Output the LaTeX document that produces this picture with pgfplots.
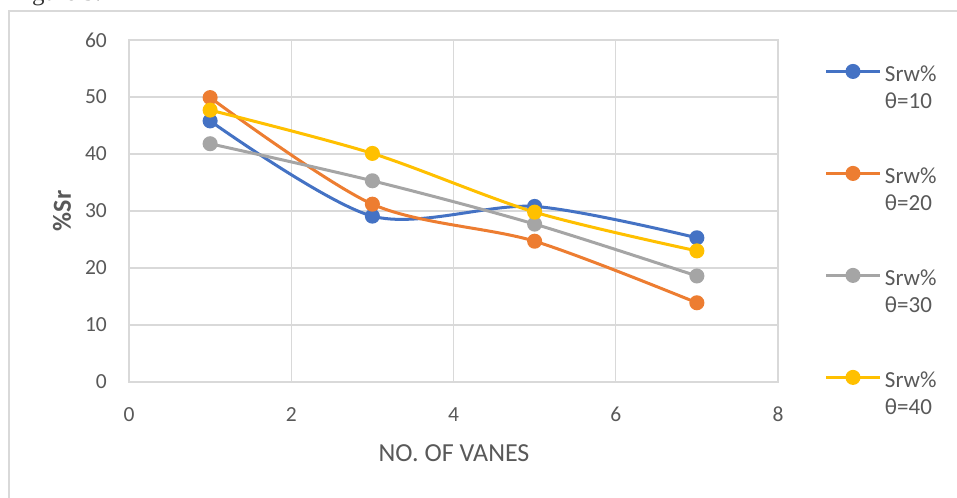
\documentclass[border=0pt]{standalone}
\usepackage{fontspec}
\setmainfont{Carlito}
\newfontfamily\seriffont{Liberation Serif}
\usepackage{pgfplots}
\pgfplotsset{compat=1.18}
\definecolor{cblue}{HTML}{4472C4}
\definecolor{corange}{HTML}{ED7D31}
\definecolor{cgray}{HTML}{A5A5A5}
\definecolor{cyellow}{HTML}{FFC000}
\definecolor{gridc}{HTML}{D9D9D9}
\definecolor{txt}{HTML}{595959}
\newcommand{\tickfont}{\fontsize{21.5bp}{28bp}\selectfont}
\newcommand{\legfont}{\fontsize{23bp}{27bp}\selectfont}
\newcommand{\titlefont}{\fontsize{26bp}{30bp}\selectfont}
\begin{document}
\begin{tikzpicture}
\useasboundingbox (0,0) rectangle (957bp,498bp);
\fill[white] (0,0) rectangle (957bp,498bp);
\draw[gridc, line width=1.2bp] (9bp,0) -- (9bp,487bp) -- (957bp,487bp);
\node[anchor=base west, inner sep=0pt, text=black!80, font=\seriffont\fontsize{25bp}{28bp}\selectfont] at (11bp,497bp) {Figure 5.};
\begin{axis}[
  at={(129bp,116bp)}, anchor=south west,
  scale only axis, width=649bp, height=342bp,
  xmin=0, xmax=8, ymin=0, ymax=60,
  xtick={0,2,...,8}, ytick={0,10,...,60},
  grid=major, major grid style={gridc, line width=1.3bp},
  axis line style={gridc, line width=1.3bp},
  major tick length=0pt,
  tick label style={font=\tickfont, text=txt},
  /pgf/number format/assume math mode=true,
  yticklabel style={inner sep=0pt, xshift=-22bp},
  xticklabel style={inner sep=0pt, yshift=-25bp},
  xlabel={NO. OF VANES}, ylabel={\textbf{\%Sr}},
  xlabel style={at={(axis description cs:0.5008,-0.2076)}, anchor=center, font=\titlefont, text=txt},
  ylabel style={at={(axis description cs:-0.1032,0.5)}, anchor=center, font=\titlefont, text=txt},
  legend style={at={(axis description cs:1.0724,0.935)}, anchor=north west, draw=none, fill=none,
    inner sep=0pt, outer sep=0pt, row sep=81.6bp, column sep=4bp, font=\legfont, text=txt,
    nodes={inner sep=0pt}},
  legend cell align=left,
  legend image code/.code={\draw[mark repeat=2, mark phase=2, #1] plot coordinates {(0bp,1bp) (26.5bp,1bp) (53bp,1bp)};},
  every axis plot/.append style={line width=3bp, mark=*, mark size=6bp, smooth, tension=0.5},
]
\addplot[cblue, mark options={fill=cblue}] coordinates {(1,45.8) (3,29.1) (5,30.8) (7,25.3)};
\addlegendentry{\begin{tabular}[t]{@{}l@{}}Srw\%\\θ=10\end{tabular}}
\addplot[corange, mark options={fill=corange}] coordinates {(1,49.9) (3,31.2) (5,24.7) (7,13.9)};
\addlegendentry{\begin{tabular}[t]{@{}l@{}}Srw\%\\θ=20\end{tabular}}
\addplot[cgray, mark options={fill=cgray}] coordinates {(1,41.8) (3,35.3) (5,27.7) (7,18.6)};
\addlegendentry{\begin{tabular}[t]{@{}l@{}}Srw\%\\θ=30\end{tabular}}
\addplot[cyellow, mark options={fill=cyellow}] coordinates {(1,47.7) (3,40.1) (5,29.8) (7,23.0)};
\addlegendentry{\begin{tabular}[t]{@{}l@{}}Srw\%\\θ=40\end{tabular}}
\end{axis}
\end{tikzpicture}
\end{document}
